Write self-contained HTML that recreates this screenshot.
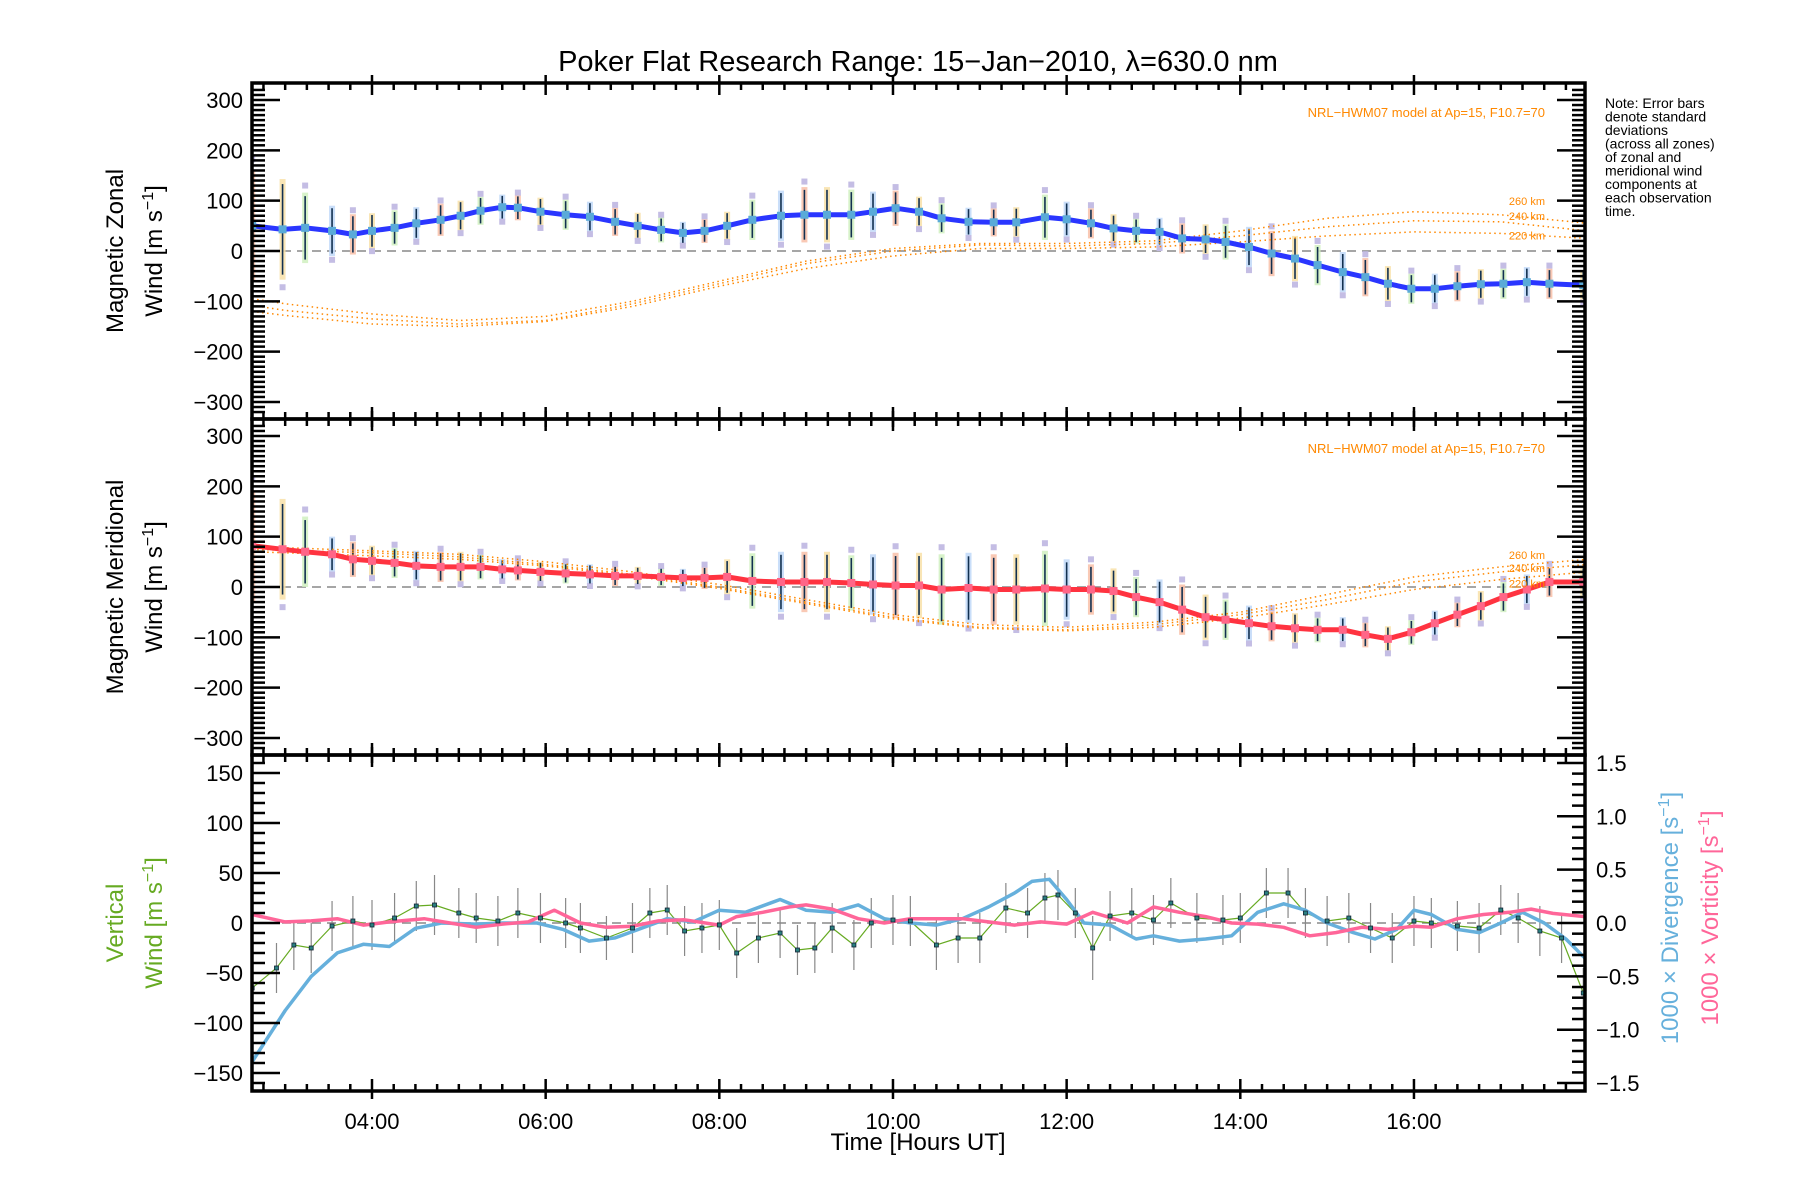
<!DOCTYPE html>
<html><head><meta charset="utf-8"><style>
html,body{margin:0;padding:0;background:#fff}
svg{display:block}
text{font-family:"Liberation Sans",sans-serif}
</style></head><body>
<svg id="chart" width="1800" height="1200" viewBox="0 0 1800 1200" xmlns="http://www.w3.org/2000/svg">
<rect width="1800" height="1200" fill="#fff"/>
<text x="918" y="71" font-size="29" text-anchor="middle">Poker Flat Research Range: 15−Jan−2010, λ=630.0 nm</text>
<g id="layer"></g>
<text font-size="14" x="1605" y="108">
<tspan x="1605" dy="0">Note: Error bars</tspan><tspan x="1605" dy="13.5">denote standard</tspan><tspan x="1605" dy="13.5">deviations</tspan><tspan x="1605" dy="13.5">(across all zones)</tspan><tspan x="1605" dy="13.5">of zonal and</tspan><tspan x="1605" dy="13.5">meridional wind</tspan><tspan x="1605" dy="13.5">components at</tspan><tspan x="1605" dy="13.5">each observation</tspan><tspan x="1605" dy="13.5">time.</tspan></text>
<text font-size="24" text-anchor="middle" transform="translate(123,251) rotate(-90)">Magnetic Zonal</text>
<text font-size="24" text-anchor="middle" transform="translate(162,251) rotate(-90)">Wind [m s<tspan dy="-9" font-size="16">−1</tspan><tspan dy="9">]</tspan></text>
<text font-size="24" text-anchor="middle" transform="translate(123,587) rotate(-90)">Magnetic Meridional</text>
<text font-size="24" text-anchor="middle" transform="translate(162,587) rotate(-90)">Wind [m s<tspan dy="-9" font-size="16">−1</tspan><tspan dy="9">]</tspan></text>
<text font-size="24" fill="#66aa22" text-anchor="middle" transform="translate(123,923) rotate(-90)">Vertical</text>
<text font-size="24" fill="#66aa22" text-anchor="middle" transform="translate(162,923) rotate(-90)">Wind [m s<tspan dy="-9" font-size="16">−1</tspan><tspan dy="9">]</tspan></text>
<text font-size="24" fill="#66b0dc" text-anchor="middle" transform="translate(1678,918) rotate(-90)">1000 × Divergence [s<tspan dy="-9" font-size="16">−1</tspan><tspan dy="9">]</tspan></text>
<text font-size="24" fill="#ff6699" text-anchor="middle" transform="translate(1718,918) rotate(-90)">1000 × Vorticity [s<tspan dy="-9" font-size="16">−1</tspan><tspan dy="9">]</tspan></text>
<text font-size="24" text-anchor="middle" x="918" y="1150">Time [Hours UT]</text>
<text font-size="13" fill="#ff8800" text-anchor="end" x="1545" y="117">NRL−HWM07 model at Ap=15, F10.7=70</text>
<text font-size="13" fill="#ff8800" text-anchor="end" x="1545" y="453">NRL−HWM07 model at Ap=15, F10.7=70</text>
</svg>
<script>
// ---- data ----
const zTimes=[2.62,2.97,3.23,3.54,3.78,4.0,4.26,4.51,4.79,5.02,5.25,5.5,5.68,5.94,6.23,6.51,6.8,7.06,7.33,7.58,7.83,8.09,8.38,8.71,8.98,9.24,9.52,9.77,10.03,10.3,10.56,10.87,11.16,11.42,11.75,12.0,12.28,12.54,12.8,13.07,13.33,13.6,13.83,14.1,14.36,14.63,14.89,15.18,15.44,15.7,15.97,16.24,16.5,16.77,17.03,17.3,17.56,17.95];
const zonal=[50,43,46,40,33,40,46,55,62,70,80,87,86,78,72,68,58,50,42,36,40,50,62,70,72,72,72,78,85,78,65,58,57,57,67,63,55,45,40,38,25,23,18,8,-5,-15,-28,-42,-52,-65,-75,-75,-70,-66,-65,-62,-65,-68];
const zErr=[110,100,70,50,40,35,35,32,32,30,28,25,25,28,30,30,28,26,25,22,24,28,40,50,55,55,50,40,35,30,30,28,28,30,45,35,30,28,25,28,30,30,35,40,45,45,40,40,38,35,30,30,30,30,30,30,30,30];
const meridional=[82,75,70,65,55,52,48,42,40,40,40,35,33,30,27,25,22,22,20,18,18,20,12,10,10,10,8,5,3,3,-5,-2,-5,-5,-3,-5,-5,-8,-20,-30,-45,-60,-65,-72,-78,-82,-85,-85,-95,-103,-90,-72,-55,-38,-20,-5,10,10];
const mErr=[110,100,70,35,35,30,30,30,30,30,25,20,20,20,20,20,20,18,18,18,22,35,55,60,60,60,55,60,65,65,70,70,70,70,75,60,50,45,40,45,50,45,40,35,30,30,25,25,25,25,25,25,25,30,30,30,30,30];
const modelTimes=[2.62,3,4,5,6,7,8,9,10,11,12,13,14,15,16,17,18];
const z260=[-95,-105,-125,-138,-130,-100,-60,-20,5,15,15,20,40,65,78,72,55];
const z240=[-108,-118,-135,-145,-138,-105,-65,-25,0,12,10,15,30,48,60,58,40];
const z220=[-120,-128,-145,-150,-140,-110,-70,-35,-10,5,5,8,18,30,38,35,25];
const m260=[80,78,72,65,50,30,5,-25,-55,-75,-80,-70,-50,-15,20,40,55];
const m240=[75,73,68,60,45,25,0,-30,-60,-80,-85,-75,-55,-25,10,30,45];
const m220=[70,68,62,55,42,22,-3,-33,-63,-82,-87,-80,-62,-35,-5,15,30];
const vTimes=[2.62,2.9,3.1,3.3,3.54,3.78,4.0,4.26,4.51,4.72,5.0,5.2,5.45,5.68,5.94,6.23,6.4,6.7,7.0,7.2,7.4,7.6,7.8,8.0,8.2,8.45,8.7,8.9,9.1,9.3,9.55,9.75,10.0,10.2,10.5,10.75,11.0,11.3,11.55,11.75,11.9,12.1,12.3,12.5,12.75,13.0,13.2,13.5,13.8,14.0,14.3,14.55,14.75,15.0,15.25,15.5,15.75,16.0,16.2,16.5,16.75,17.0,17.2,17.45,17.7,17.95];
const vertical=[-65,-45,-22,-25,-3,2,-2,5,17,18,10,5,2,10,5,0,-5,-15,-5,10,13,-8,-5,-2,-30,-15,-10,-27,-25,-5,-22,0,3,2,-22,-15,-15,15,10,25,28,10,-25,7,10,3,20,5,3,5,30,30,10,2,5,-5,-15,2,0,-3,-5,13,5,-8,-15,-70];
const vErr=[25,25,25,25,25,25,25,25,25,30,25,25,25,25,25,25,25,22,25,25,25,25,25,25,25,25,25,25,25,25,25,25,25,25,25,25,25,25,25,25,25,25,32,25,25,25,25,25,25,25,25,25,25,25,25,25,25,25,25,25,25,25,25,25,25,25];
const dTimes=[2.62,3.0,3.3,3.6,3.9,4.2,4.5,4.8,5.2,5.5,5.9,6.2,6.5,6.8,7.1,7.4,7.7,8.0,8.3,8.6,8.7,9.0,9.3,9.6,9.9,10.2,10.5,10.8,11.1,11.4,11.6,11.8,12.0,12.2,12.5,12.8,13.0,13.3,13.6,13.9,14.2,14.5,14.75,15.0,15.3,15.55,15.8,16.0,16.2,16.5,16.75,17.0,17.25,17.5,17.75,17.97];
const divergence=[-1.3,-0.82,-0.5,-0.28,-0.2,-0.22,-0.05,0,-0.01,0,0,-0.06,-0.17,-0.14,-0.05,0.04,0.01,0.12,0.1,0.19,0.22,0.12,0.1,0.17,0.04,0,-0.02,0.04,0.15,0.28,0.39,0.41,0.22,0,-0.02,-0.15,-0.12,-0.17,-0.15,-0.12,0.1,0.18,0.12,0,-0.09,-0.15,-0.06,0.12,0.08,-0.06,-0.09,0,0.1,0,-0.15,-0.33];
const wTimes=[2.62,3.0,3.3,3.6,3.9,4.2,4.6,4.9,5.2,5.5,5.8,6.1,6.4,6.7,7.0,7.3,7.6,8.0,8.2,8.5,8.8,9.0,9.3,9.6,9.9,10.2,10.5,10.8,11.1,11.4,11.7,12.0,12.3,12.7,13.0,13.3,13.6,13.9,14.2,14.5,14.8,15.1,15.4,15.7,16.0,16.2,16.5,16.8,17.1,17.35,17.6,17.97];
const vorticity=[0.08,0.01,0.02,0.04,-0.02,0.01,0.04,0,-0.04,-0.01,0.01,0.12,0,-0.04,-0.03,0.02,0.03,-0.02,0.06,0.1,0.15,0.17,0.13,0.04,0,0.04,0.04,0.04,0.01,-0.02,0.01,-0.01,0.1,0,0.15,0.1,0.06,0,-0.01,-0.04,-0.12,-0.09,-0.04,-0.06,-0.03,-0.04,0.04,0.08,0.1,0.13,0.09,0.06];
const xTickLabels=["04:00","06:00","08:00","10:00","12:00","14:00","16:00"];
const xTickHours=[4,6,8,10,12,14,16];

// ---- geometry ----
const L=252,R=1585;
const X=t=>372+(t-4)*86.83;
const P1={top:83,bot:419,zero:251,k:0.5033};
const P2={top:419,bot:755,zero:587,k:0.5033};
const P3={top:755,bot:1091,zero:923,k:1.0};
const Y1=v=>P1.zero-v*P1.k, Y2=v=>P2.zero-v*P2.k, Y3=v=>P3.zero-v*P3.k, YR=v=>P3.zero-v*106.7;
const NS="http://www.w3.org/2000/svg";
const layer=document.getElementById('layer');
function mk(tag,attrs,parent){const e=document.createElementNS(NS,tag);for(const k in attrs)e.setAttribute(k,attrs[k]);(parent||layer).appendChild(e);return e;}
function clip(id,p){const d=mk('defs',{});const c=mk('clipPath',{id:id},d);mk('rect',{x:L,y:p.top,width:R-L,height:p.bot-p.top},c);}
clip('c1',P1);clip('c2',P2);clip('c3',P3);
function path(ts,vs,Y){return ts.map((t,i)=>(i?'L':'M')+X(t).toFixed(1)+' '+Y(vs[i]).toFixed(1)).join(' ');}

[[P1,'zonal-zero-line'],[P2,'meridional-zero-line'],[P3,'vertical-zero-line']].forEach(([p,n])=>{
  const e=mk('line',{x1:L,x2:R,y1:p.zero,y2:p.zero,stroke:'#888','stroke-width':1.5,'stroke-dasharray':'9,6'});
  
  
});

function windPanel(g,vals,errs,Y,models,lineColor,markColor,prefix){
  const gr=mk('g',{'clip-path':'url(#'+g+')'});
  
  
  const colors=['#f8c0a8','#f8e0a8','#d0f0c0','#c0d8f8'];
  zTimes.forEach((t,i)=>{
    const x=X(t),v=vals[i],e=errs[i];
    const b=mk('rect',{x:x-3,y:Y(v+e),width:6,height:Y(v-e)-Y(v+e),fill:colors[i%4],opacity:0.85},gr);
    
    
    if(i%2===0){
      const s1=mk('rect',{x:x-3,y:Y(v+e*1.2)-3,width:6,height:6,fill:'#c4bde4'},gr);
      
      
    } else {
      const s2=mk('rect',{x:x-3,y:Y(v-e*1.15)-3,width:6,height:6,fill:'#c4bde4'},gr);
      
      
    }
    const l=mk('line',{x1:x,x2:x,y1:Y(v+e*0.9),y2:Y(v-e*0.9),stroke:'#123050','stroke-width':1.6},gr);
    
    
  });
  models.forEach((m,j)=>{
    const e=mk('path',{d:path(modelTimes,m,Y),fill:'none',stroke:'#ff8800','stroke-width':1.5,'stroke-dasharray':'1.5,3.5'},gr);
    
    
  });
  const ln=mk('path',{d:path(zTimes,vals,Y),fill:'none',stroke:lineColor,'stroke-width':5,'stroke-linejoin':'round'},gr);
  
  
  zTimes.forEach((t,i)=>{
    const m=mk('rect',{x:X(t)-4,y:Y(vals[i])-4,width:8,height:8,fill:markColor},gr);
    
    
  });
}
windPanel('c1',zonal,zErr,Y1,[z260,z240,z220],'#2a36ff','#5aaad8','zonal');
windPanel('c2',meridional,mErr,Y2,[m260,m240,m220],'#ff3340','#ff6688','meridional');

[['260 km',Y1(z260[15])-10],['240 km',Y1(z240[15])-2],['220 km',Y1(z220[15])+6]].forEach(([s,y])=>{
  const e=mk('text',{x:1545,y:y,'font-size':11,fill:'#ff8800','text-anchor':'end'});e.textContent=s;
  
  
});
[['260 km',Y2(m260[15])-8],['240 km',Y2(m240[15])],['220 km',Y2(m220[15])+8]].forEach(([s,y])=>{
  const e=mk('text',{x:1545,y:y,'font-size':11,fill:'#ff8800','text-anchor':'end'});e.textContent=s;
  
  
});

const g3=mk('g',{'clip-path':'url(#c3)'});


vTimes.forEach((t,i)=>{
  const e=mk('line',{x1:X(t),x2:X(t),y1:Y3(vertical[i]+vErr[i]),y2:Y3(vertical[i]-vErr[i]),stroke:'#888','stroke-width':1.2},g3);
  
  
});
const vl=mk('path',{d:path(vTimes,vertical,Y3),fill:'none',stroke:'#66aa22','stroke-width':1.2},g3);


const dl=mk('path',{d:path(dTimes,divergence,YR),fill:'none',stroke:'#66b0dc','stroke-width':3.5,'stroke-linejoin':'round'},g3);


const wl=mk('path',{d:path(wTimes,vorticity,YR),fill:'none',stroke:'#ff6699','stroke-width':3.5,'stroke-linejoin':'round'},g3);


vTimes.forEach((t,i)=>{
  const e=mk('rect',{x:X(t)-2,y:Y3(vertical[i])-2,width:4,height:4,fill:'#2a8080',stroke:'#123','stroke-width':0.8},g3);
  
  
});

const ax=mk('g',{stroke:'#000'});


function ln(x1,y1,x2,y2,w){mk('line',{x1,y1,x2,y2,'stroke-width':w},ax);}
[P1,P2,P3].forEach(p=>{
  mk('rect',{x:L,y:p.top,width:R-L,height:p.bot-p.top,fill:'none','stroke-width':3.5},ax);
  for(let t=2.75;t<18;t+=0.25){
    const x=X(t); if(x<=L+1||x>=R-1)continue;
    const major=Math.abs(t/2-Math.round(t/2))<1e-6;
    const len=major?12:7;
    ln(x,p.top,x,p.top+len,2.5);ln(x,p.bot,x,p.bot-len,2.5);
    if(major){ln(x,p.top,x,p.top-8,2.5);ln(x,p.bot,x,p.bot+8,2.5);}
  }
});
function yTicksWind(p,Y){
  for(let v=-330;v<=330;v+=10){
    const y=Y(v); if(y<p.top+2||y>p.bot-2)continue;
    const major=v%100===0;
    ln(L,y,L+(major?28:13),y,2.5);
    ln(R,y,R-(major?28:13),y,2.5);
  }
}
yTicksWind(P1,Y1);yTicksWind(P2,Y2);
for(let v=-160;v<=160;v+=10){const y=Y3(v);if(y<P3.top+2||y>P3.bot-2)continue;ln(L,y,L+(v%50===0?28:13),y,2.5);}
for(let v=-15;v<=15;v++){const y=YR(v/10);if(y<P3.top+2||y>P3.bot-2)continue;ln(R,y,R-(v%5===0?28:13),y,2.5);}

function lab(x,y,s,anchor,name){const e=mk('text',{x,y,'font-size':22,'text-anchor':anchor});e.textContent=s;
  
  }
const windTicks=[300,200,100,0,-100,-200,-300];
windTicks.forEach(v=>{lab(243,Y1(v)+8,String(v).replace('-','−'),'end','zonal-y-tick-label');lab(243,Y2(v)+8,String(v).replace('-','−'),'end','meridional-y-tick-label');});
const vertTicks=[150,100,50,0,-50,-100,-150];
vertTicks.forEach(v=>lab(243,Y3(v)+8,String(v).replace('-','−'),'end','vertical-y-tick-label'));
const rightTicks=[1.5,1.0,0.5,0.0,-0.5,-1.0,-1.5];
rightTicks.forEach(v=>lab(1596,YR(v)+8,v.toFixed(1).replace('-','−'),'start','right-y-tick-label'));
xTickHours.forEach((h,i)=>lab(X(h),1129,xTickLabels[i],'middle','x-tick-label'));
</script>
</body></html>
